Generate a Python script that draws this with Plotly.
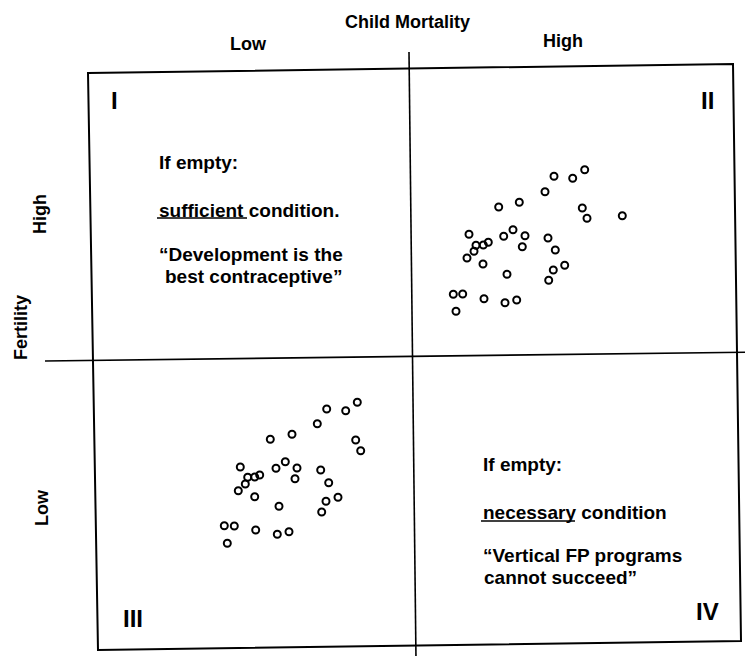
import plotly.graph_objects as go

# ---- data (in page units) ----
q2_x = [584.7, 554.0, 572.7, 545.0, 519.3, 498.7, 582.3, 587.0, 622.3, 469.0,
        513.0, 503.7, 525.0, 548.0, 488.3, 483.3, 476.0, 474.0, 522.3, 467.0,
        555.3, 483.0, 564.7, 553.3, 507.0, 548.7, 453.3, 462.7, 484.0, 516.7,
        505.0, 456.0]
q2_y = [169.7, 176.3, 178.3, 191.7, 202.3, 207.0, 208.0, 218.3, 215.7, 234.3,
        229.7, 236.3, 235.7, 238.0, 242.3, 245.0, 245.3, 251.3, 246.7, 258.0,
        250.0, 264.0, 265.3, 270.0, 274.3, 280.3, 294.3, 294.0, 298.7, 300.0,
        302.7, 311.3]
q3_x = [357.3, 326.7, 345.7, 317.3, 292.0, 270.3, 355.7, 360.7, 240.3, 285.3,
        276.0, 297.0, 320.7, 259.7, 254.7, 247.7, 245.3, 295.0, 238.3, 328.7,
        254.7, 338.0, 326.0, 279.0, 321.7, 224.3, 234.3, 255.7, 289.0, 277.3,
        227.3]
q3_y = [402.3, 409.0, 410.7, 423.7, 434.3, 439.3, 440.0, 450.7, 467.0, 461.7,
        468.3, 468.0, 470.0, 475.0, 477.0, 477.3, 484.0, 478.7, 490.7, 482.7,
        496.7, 497.3, 501.3, 506.3, 512.0, 525.7, 526.0, 530.0, 531.7, 534.3,
        543.3]

top_title = "Child Mortality"
col_labels = ["Low", "High"]
side_title = "Fertility"
row_labels = ["High", "Low"]
numerals = ["I", "II", "III", "IV"]
q1_lines = ["If empty:", "sufficient condition.", "\u201cDevelopment is the", "best contraceptive\u201d"]
q4_lines = ["If empty:", "necessary condition", "\u201cVertical FP programs", "cannot succeed\u201d"]

PAGE_W, PAGE_H = 753, 656
OFF = 8  # browser body margin
FONT = "Liberation Sans, Arial, sans-serif"

fig = go.Figure()
for xs, ys in [(q2_x, q2_y), (q3_x, q3_y)]:
    fig.add_trace(go.Scatter(
        x=xs, y=ys, mode="markers",
        marker=dict(symbol="circle-open", size=7, color="black",
                    line=dict(width=2, color="black")),
        hoverinfo="skip", showlegend=False))

shapes = []
shapes.append(dict(type="path", path="M 88 73 L 733 64 L 741 641 L 98 650 Z",
                   line=dict(color="black", width=2), xref="x", yref="y"))
shapes.append(dict(type="line", x0=409, y0=52, x1=416, y1=660,
                   line=dict(color="black", width=1.6), xref="x", yref="y"))
shapes.append(dict(type="line", x0=45, y0=361, x1=760, y1=352,
                   line=dict(color="black", width=1.6), xref="x", yref="y"))
shapes.append(dict(type="line", x0=157, y0=218, x1=247, y1=218,
                   line=dict(color="black", width=1.5), xref="x", yref="y"))
shapes.append(dict(type="line", x0=481, y0=521, x1=575, y1=521,
                   line=dict(color="black", width=1.5), xref="x", yref="y"))

ann = []
def txt(x, y, s, size=19, xanchor="left", angle=0):
    ann.append(dict(x=x, y=y, xref="x", yref="y", text="<b>" + s + "</b>",
                    showarrow=False, xanchor=xanchor, yanchor="middle",
                    textangle=angle,
                    font=dict(family=FONT, size=size, color="black")))

txt(407, 22, top_title, 18, "center")
txt(248, 44, col_labels[0], 18, "center")
txt(563, 41, col_labels[1], 18, "center")
txt(40, 214, row_labels[0], 18, "center", -90)
txt(21, 328, side_title, 18, "center", -90)
txt(42, 508, row_labels[1], 18, "center", -90)

txt(114, 100, numerals[0], 24, "center")
txt(707, 100, numerals[1], 24, "center")
txt(133, 618, numerals[2], 24, "center")
txt(707, 611, numerals[3], 24, "center")

for y, s, x in zip([162, 210, 254, 276], q1_lines, [157, 157, 157, 163]):
    txt(x, y, s)
for y, s, x in zip([464, 512, 555, 577], q4_lines, [481, 481, 481, 482]):
    txt(x, y, s)

fig.update_layout(
    width=PAGE_W - OFF, height=PAGE_H - OFF, margin=dict(l=0, r=0, t=0, b=0),
    paper_bgcolor="white", plot_bgcolor="white",
    xaxis=dict(range=[OFF, PAGE_W], visible=False, fixedrange=True),
    yaxis=dict(range=[PAGE_H, OFF], visible=False, fixedrange=True),
    shapes=shapes, annotations=ann, showlegend=False)

fig.write_html("out.html")
